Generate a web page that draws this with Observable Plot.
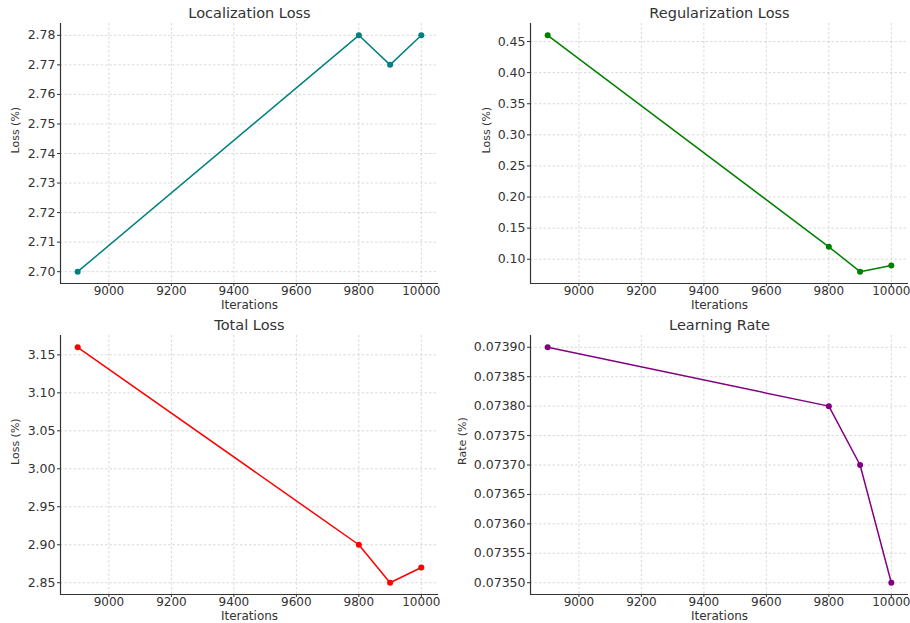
<!DOCTYPE html>
<html>
<head>
<meta charset="utf-8">
<script src="https://cdn.jsdelivr.net/npm/d3@7"></script>
<script src="https://cdn.jsdelivr.net/npm/@observablehq/plot@0.6"></script>
<style>
  html, body { margin: 0; padding: 0; background: #fff; }
  #root { position: relative; width: 910px; height: 623px; overflow: hidden; font-family: "DejaVu Sans", sans-serif; }
  #root svg { position: absolute; overflow: visible; }
</style>
</head>
<body>
<div id="root"></div>
<script>
const iterations = [8900, 9800, 9900, 10000];
const localizationLoss = [2.70, 2.78, 2.77, 2.78];
const regularizationLoss = [0.46, 0.12, 0.08, 0.09];
const totalLoss = [3.16, 2.90, 2.85, 2.87];
const learningRate = [0.0739, 0.0738, 0.0737, 0.0735];

const xTicks = [9000, 9200, 9400, 9600, 9800, 10000];
const locTicks = [2.70, 2.71, 2.72, 2.73, 2.74, 2.75, 2.76, 2.77, 2.78];
const regTicks = [0.10, 0.15, 0.20, 0.25, 0.30, 0.35, 0.40, 0.45];
const totTicks = [2.85, 2.90, 2.95, 3.00, 3.05, 3.10, 3.15];
const lrTicks = [0.07350, 0.07355, 0.07360, 0.07365, 0.07370, 0.07375, 0.07380, 0.07385, 0.07390];

const panels = [
  {title: "Localization Loss", ylabel: "Loss (%)", values: localizationLoss, ticks: locTicks, color: "teal", fmt: d3.format(".2f"),
   left: 0, top: 0, w: 455, h: 310, m: [23, 17, 27, 60], ldx: -45},
  {title: "Regularization Loss", ylabel: "Loss (%)", values: regularizationLoss, ticks: regTicks, color: "green", fmt: d3.format(".2f"),
   left: 455, top: 0, w: 455, h: 310, m: [23, 2, 27, 75], ldx: -44},
  {title: "Total Loss", ylabel: "Loss (%)", values: totalLoss, ticks: totTicks, color: "red", fmt: d3.format(".2f"),
   left: 0, top: 310, w: 455, h: 313, m: [25, 17, 29, 60], ldx: -45},
  {title: "Learning Rate", ylabel: "Rate (%)", values: learningRate, ticks: lrTicks, color: "purple", fmt: d3.format(".5f"),
   left: 455, top: 310, w: 455, h: 313, m: [25, 2, 29, 75], ldx: -68}
];

function pad(ext) { const r = ext[1] - ext[0]; return [ext[0] - 0.05 * r, ext[1] + 0.05 * r]; }

const root = document.getElementById("root");
for (const p of panels) {
  const data = iterations.map((x, i) => ({x, y: p.values[i]}));
  const xd = pad(d3.extent(iterations));
  const yd = pad(d3.extent(p.values));
  const textColor = "#333";
  const svg = Plot.plot({
    width: p.w, height: p.h,
    marginTop: p.m[0], marginRight: p.m[1], marginBottom: p.m[2], marginLeft: p.m[3],
    style: {fontFamily: "DejaVu Sans, sans-serif", fontSize: "12px", color: textColor, background: "transparent", overflow: "visible"},
    x: {domain: xd, ticks: xTicks, tickFormat: d => String(d), label: null},
    y: {domain: yd, ticks: p.ticks, tickFormat: p.fmt, label: null},
    marks: [
      Plot.gridX(xTicks, {stroke: "#bdbdbd", strokeOpacity: 0.8, strokeDasharray: "2.5,2", strokeWidth: 0.7}),
      Plot.gridY(p.ticks, {stroke: "#bdbdbd", strokeOpacity: 0.8, strokeDasharray: "2.5,2", strokeWidth: 0.7}),
      Plot.axisX({ticks: xTicks, tickFormat: d => String(d), tickSize: 3, tickPadding: 0, fontSize: 12, stroke: textColor, fill: textColor, label: null}),
      Plot.axisY({ticks: p.ticks, tickFormat: p.fmt, tickSize: 3, tickPadding: 2, fontSize: 12.5, stroke: textColor, fill: textColor, label: null}),
      Plot.ruleX([xd[0]], {stroke: "#333", strokeWidth: 1.2}),
      Plot.ruleY([yd[0]], {stroke: "#333", strokeWidth: 1.2}),
      Plot.line(data, {x: "x", y: "y", stroke: p.color, strokeWidth: 1.5}),
      Plot.dot(data, {x: "x", y: "y", fill: p.color, r: 3}),
      Plot.text([p.title], {frameAnchor: "top", dy: -10, text: d => d, fontSize: 14.5, fontWeight: "normal", fill: textColor, lineAnchor: "middle"}),
      Plot.text([p.ylabel], {frameAnchor: "left", dx: p.ldx, rotate: -90, text: d => d, fontSize: 11, fill: textColor, lineAnchor: "middle"}),
      Plot.text(["Iterations"], {frameAnchor: "bottom", dy: 22, text: d => d, fontSize: 12, fill: textColor, lineAnchor: "middle"})
    ]
  });
  svg.style.left = p.left + "px";
  svg.style.top = p.top + "px";
  root.appendChild(svg);
}
</script>
</body>
</html>
